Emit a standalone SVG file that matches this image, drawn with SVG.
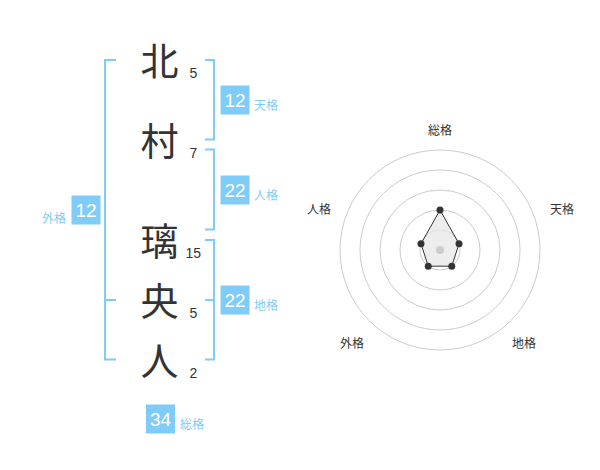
<svg xmlns="http://www.w3.org/2000/svg" width="600" height="470" viewBox="0 0 600 470">
<style>
.k{font-family:"Noto Sans CJK JP","Noto Sans CJK SC",sans-serif;font-size:38px;fill:#333;text-anchor:middle}
.n{font-family:"Liberation Sans",Arial,sans-serif;font-size:14px;fill:#333}
.br{fill:none;stroke:#80ccf8;stroke-width:2}
.box{fill:#80ccf8}
.bn{font-family:"Liberation Sans",Arial,sans-serif;font-size:19px;fill:#fff;text-anchor:middle}
.bl{font-family:"Noto Sans CJK JP",sans-serif;font-size:12px;fill:#80ccf8}
.rl{font-family:"Noto Sans CJK JP",sans-serif;font-size:12px;fill:#333;text-anchor:middle}
.ring{fill:none;stroke:#ccc;stroke-width:1}
</style>
<rect width="600" height="470" fill="#fff"/>
<g id="name">
<text class="k" x="159.5" y="74.5">北</text>
<text class="k" x="159.5" y="155">村</text>
<text class="k" x="159.5" y="255">璃</text>
<text class="k" x="159.5" y="315">央</text>
<text class="k" x="159.5" y="374.5">人</text>
<text class="n" x="189.5" y="77.5">5</text>
<text class="n" x="189.5" y="158">7</text>
<text class="n" x="185.5" y="258">15</text>
<text class="n" x="189.5" y="318">5</text>
<text class="n" x="189.5" y="377.5">2</text>
</g>
<g id="connectors">
<path class="br" d="M116,60 H105 V359.5 H116 M105,300 H116"/>
<path class="br" d="M205,60 H214 V139.5 H205"/>
<path class="br" d="M205,149.5 H214 V229.5 H205"/>
<path class="br" d="M205,240 H214 V359.5 H205 M205,300 H214"/>
</g>
<g id="tenkaku">
<rect class="box" x="220.5" y="85.5" width="29" height="29"/>
<text class="bn" x="235" y="107">12</text>
<text class="bl" x="254" y="109.5">天格</text>
</g>
<g id="jinkaku">
<rect class="box" x="220.5" y="175.5" width="29" height="29"/>
<text class="bn" x="235" y="197">22</text>
<text class="bl" x="254" y="199.5">人格</text>
</g>
<g id="chikaku">
<rect class="box" x="220.5" y="285.5" width="29" height="29"/>
<text class="bn" x="235" y="307">22</text>
<text class="bl" x="254" y="309.5">地格</text>
</g>
<g id="gaikaku">
<rect class="box" x="71.5" y="195.5" width="29" height="29"/>
<text class="bn" x="86" y="217">12</text>
<text class="bl" x="66" y="222.5" text-anchor="end">外格</text>
</g>
<g id="soukaku">
<rect class="box" x="146" y="404.5" width="29" height="29"/>
<text class="bn" x="160.5" y="426">34</text>
<text class="bl" x="180" y="428.5">総格</text>
</g>
<g id="radar">
<circle class="ring" cx="440" cy="250" r="100"/>
<circle class="ring" cx="440" cy="250" r="80"/>
<circle class="ring" cx="440" cy="250" r="60"/>
<circle class="ring" cx="440" cy="250" r="40"/>
<circle class="ring" cx="440" cy="250" r="20"/>
<polygon points="440,210 459.02,243.82 451.76,266.18 428.24,266.18 420.98,243.82" fill="#e6e6e6" fill-opacity="0.7" stroke="#333" stroke-width="1"/>
<circle cx="440" cy="250" r="4" fill="#ccc"/>
<g fill="#333">
<circle cx="440" cy="210" r="3.5"/>
<circle cx="459.02" cy="243.82" r="3.5"/>
<circle cx="451.76" cy="266.18" r="3.5"/>
<circle cx="428.24" cy="266.18" r="3.5"/>
<circle cx="420.98" cy="243.82" r="3.5"/>
</g>
<text class="rl" x="440" y="135">総格</text>
<text class="rl" x="562" y="214">天格</text>
<text class="rl" x="319" y="214">人格</text>
<text class="rl" x="352" y="348">外格</text>
<text class="rl" x="524" y="348">地格</text>
</g>
</svg>
